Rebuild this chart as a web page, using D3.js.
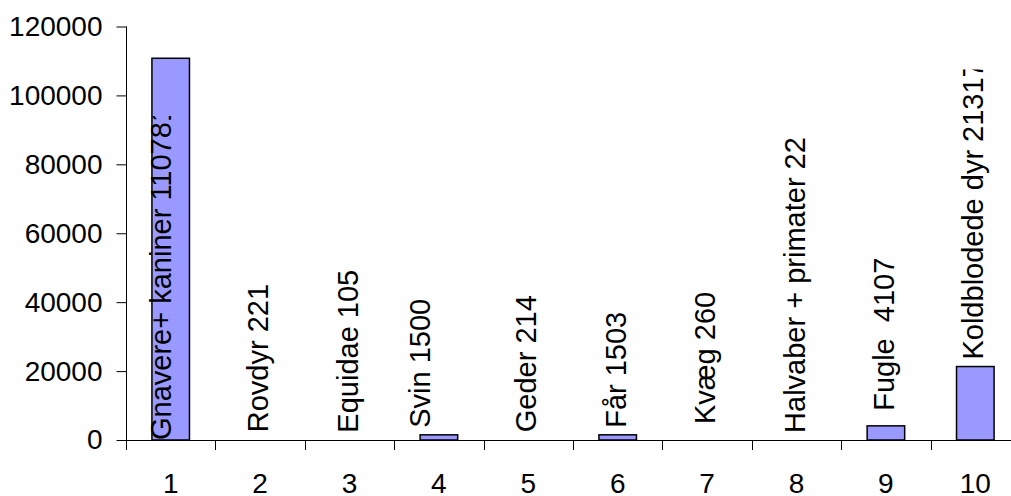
<!DOCTYPE html>
<html>
<head>
<meta charset="utf-8">
<script src="https://cdn.jsdelivr.net/npm/d3@7"></script>
<style>
  html, body { margin: 0; padding: 0; background: #fff; }
  svg { display: block; }
  text { font-family: "Liberation Sans", Arial, sans-serif; }
</style>
</head>
<body>
<svg id="chart" width="1011" height="496"></svg>
<script>
// ---- data ----
const categories = ["1", "2", "3", "4", "5", "6", "7", "8", "9", "10"];
const values = [110781, 221, 105, 1500, 214, 1503, 260, 22, 4107, 21317];
const labels = ["Gnavere+ kaniner 110781", "Rovdyr 221", "Equidae 105", "Svin 1500", "Geder 214",
                "Får 1503", " Kvæg 260", "Halvaber + primater 22", " Fugle  4107", "Koldblodede dyr 21317"];
const yTicks = [0, 20000, 40000, 60000, 80000, 100000, 120000];

// ---- layout (style only) ----
const labelInside = [true, false, false, false, false, false, false, false, false, false];
const labelDx = [0, 8, 8, -9, 8, 8, 8, 8, 8, 8];
const labelMaxLen = [324, null, null, null, null, null, null, null, null, 290];
const labelSize = 29;

const svg = d3.select("#chart");
const x0 = 126, yBase = 440;
const x = d3.scaleBand().domain(categories).range([x0, x0 + 89.4 * categories.length]).padding(0);
const y = d3.scaleLinear().domain([0, 120000]).range([yBase, 26.5]);

// y axis
const yAxis = svg.append("g").attr("transform", `translate(${x0 + 0.5},0)`)
  .call(d3.axisLeft(y).tickValues(yTicks).tickSize(10).tickPadding(14).tickFormat(d3.format("d")));
yAxis.select(".domain").remove();
yAxis.selectAll(".tick line").attr("stroke", "#000");
yAxis.selectAll(".tick text").attr("font-size", 28).attr("fill", "#000")
  .attr("font-family", "'Liberation Sans', Arial, sans-serif");
svg.append("line").attr("x1", x0 + 0.5).attr("x2", x0 + 0.5)
  .attr("y1", y(120000)).attr("y2", yBase + 10).attr("stroke", "#000");

// x axis line
svg.append("line").attr("x1", x0).attr("x2", 1011).attr("y1", yBase + 0.5).attr("y2", yBase + 0.5)
  .attr("stroke", "#000");
// boundary ticks
svg.append("g").selectAll("line").data(categories).join("line")
  .attr("x1", d => Math.round(x(d) + x.step()) + 0.5)
  .attr("x2", d => Math.round(x(d) + x.step()) + 0.5)
  .attr("y1", yBase).attr("y2", yBase + 10).attr("stroke", "#000");
// category labels
svg.append("g").selectAll("text").data(categories).join("text")
  .attr("x", d => x(d) + x.bandwidth() / 2)
  .attr("y", 493)
  .attr("text-anchor", "middle").attr("font-size", 28).attr("fill", "#000")
  .text(d => d);

// bars (sub-pixel bars are not drawn, as in the original)
const bw = x.bandwidth() * 0.42;
svg.append("g").selectAll("rect").data(values).join("rect")
  .attr("x", (d, i) => x(categories[i]) + x.bandwidth() / 2 - bw / 2)
  .attr("y", d => y(d))
  .attr("width", bw)
  .attr("height", d => yBase - y(d))
  .attr("fill", "#9999FF")
  .attr("stroke", "#000")
  .attr("stroke-width", 1.5)
  .attr("visibility", d => (yBase - y(d)) < 1 ? "hidden" : "visible");

// data labels
const defs = svg.append("defs");
labels.forEach((t, i) => {
  const cx = x(categories[i]) + x.bandwidth() / 2;
  const oy = labelInside[i] ? yBase : y(values[i]) - 7;
  const g = svg.append("g");
  if (labelMaxLen[i]) {
    const id = "clip" + i;
    defs.append("clipPath").attr("id", id).append("rect")
      .attr("x", cx - 40).attr("y", oy - labelMaxLen[i]).attr("width", 80).attr("height", labelMaxLen[i] + 5);
    g.attr("clip-path", `url(#${id})`);
  }
  g.append("text")
    .attr("transform", `translate(${cx + labelDx[i]},${oy}) rotate(-90)`)
    .attr("font-size", labelSize).attr("fill", "#000")
    .style("white-space", "pre")
    .attr("xml:space", "preserve")
    .text(t);
});
</script>
</body>
</html>
